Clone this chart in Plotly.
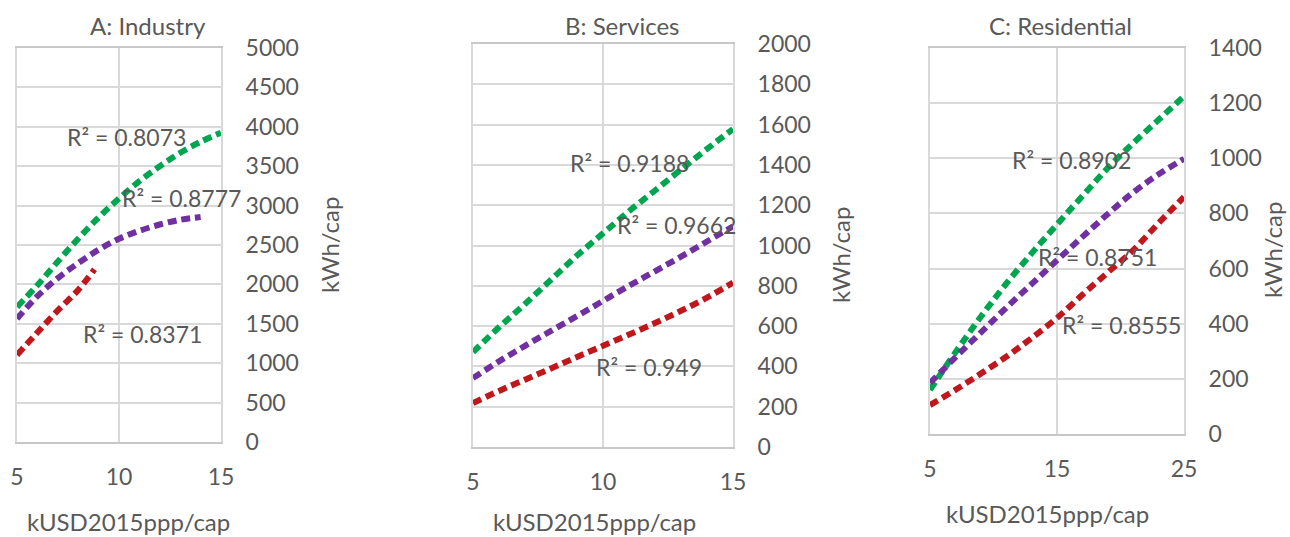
import plotly.graph_objects as go

# Trend curves of electricity use per capita vs. GDP per capita, three sectors
ind_x = [5, 6, 7, 8, 9, 10, 11, 12, 13, 14, 15]
ind_green = [1713, 1990, 2290, 2580, 2850, 3090, 3310, 3500, 3670, 3810, 3925]
ind_purple_x = [5, 6, 7, 8, 9, 10, 11, 12, 13, 14]
ind_purple = [1565, 1850, 2080, 2270, 2440, 2580, 2680, 2760, 2820, 2855]
ind_red_x = [5, 6, 7, 8, 8.8]
ind_red = [1104, 1390, 1670, 1930, 2190]

srv_x = [5, 6, 7, 8, 9, 10, 11, 12, 13, 14, 15]
srv_green = [471, 594, 710, 830, 950, 1060, 1170, 1273, 1377, 1479, 1578]
srv_purple = [342, 425, 502, 576, 650, 725, 800, 872, 945, 1020, 1095]
srv_red = [218, 278, 334, 390, 447, 502, 558, 615, 676, 741, 816]

res_x = [5, 7, 9, 11, 13, 15, 17, 19, 21, 23, 25]
res_green = [160, 296, 425, 545, 655, 760, 863, 965, 1055, 1140, 1225]
res_purple = [185, 278, 368, 458, 544, 630, 715, 798, 876, 942, 998]
res_red = [105, 160, 219, 280, 348, 421, 505, 586, 667, 765, 860]

panel_titles = ["A: Industry", "B: Services", "C: Residential"]
r2_labels = [
    [("R² = 0.8073", 10.39, 3870), ("R² = 0.8777", 13.04, 3096), ("R² = 0.8371", 11.13, 1371)],
    [("R² = 0.9188", 11.0, 1409), ("R² = 0.9662", 12.81, 1102), ("R² = 0.949", 11.77, 397)],
    [("R² = 0.8902", 16.18, 994), ("R² = 0.8751", 18.15, 642), ("R² = 0.8555", 20.04, 395)],
]

GREEN = "#00a64f"
PURPLE = "#7030a0"
RED = "#c0171d"
TEXT = "#595959"
GRID = "#d9d9d9"
FONT = "Lato"

W, H = 1290, 537


def fx(p):
    return p / W


def fy(p):
    return (H - p) / H


fig = go.Figure()

series = [
    ("x", "y", [(ind_x, ind_green, GREEN), (ind_purple_x, ind_purple, PURPLE), (ind_red_x, ind_red, RED)]),
    ("x2", "y2", [(srv_x, srv_green, GREEN), (srv_x, srv_purple, PURPLE), (srv_x, srv_red, RED)]),
    ("x3", "y3", [(res_x, res_green, GREEN), (res_x, res_purple, PURPLE), (res_x, res_red, RED)]),
]
for xa, ya, lines in series:
    for xs, ys, col in lines:
        fig.add_trace(go.Scatter(
            x=xs, y=ys, xaxis=xa, yaxis=ya, mode="lines",
            line=dict(color=col, width=6, dash="9px,5px", shape="spline", smoothing=1.0),
            showlegend=False, hoverinfo="skip",
        ))

# plot-area boxes in pixels: left, right, top, bottom
boxes = [(17, 221, 48, 442), (473, 733, 44, 447), (930, 1184, 48, 434)]
x_ranges = [(5, 15, 5), (5, 15, 5), (5, 25, 10)]
y_ranges = [(0, 5000, 500), (0, 2000, 200), (0, 1400, 200)]

axis_common = dict(
    showgrid=True, gridcolor=GRID, gridwidth=1.5,
    showline=True, linecolor=GRID, linewidth=2, mirror=True,
    zeroline=False, ticks="", automargin=False,
    tickfont=dict(family=FONT, size=23, color=TEXT),
)

layout = dict(
    width=W, height=H,
    margin=dict(l=0, r=0, t=0, b=0, autoexpand=False),
    paper_bgcolor="white", plot_bgcolor="white",
    font=dict(family=FONT, color=TEXT),
)
for i, ((l, r, t, b), (x0, x1, dx), (y0, y1, dy)) in enumerate(zip(boxes, x_ranges, y_ranges)):
    sfx = "" if i == 0 else str(i + 1)
    layout["xaxis" + sfx] = dict(
        axis_common, domain=[fx(l), fx(r)], range=[x0, x1], dtick=dx, tick0=x0,
        anchor="y" + sfx, ticklabelstandoff=13,
    )
    layout["yaxis" + sfx] = dict(
        axis_common, domain=[fy(b), fy(t)], range=[y0, y1], dtick=dy, tick0=0,
        anchor="x" + sfx, side="right", ticklabelstandoff=18,
    )
fig.update_layout(**layout)
fig.update_xaxes(linecolor="#c8c8c8")

annotations = []
title_pos = [(148, 25), (622, 25), (1060, 26)]
xtitle_pos = [(128, 521), (594, 521), (1047, 513)]
ytitle_pos = [(329, 245), (840, 255), (1273, 250)]
for i in range(3):
    annotations.append(dict(
        text=panel_titles[i], x=fx(title_pos[i][0]), y=fy(title_pos[i][1]),
        xref="paper", yref="paper", showarrow=False,
        xanchor="center", yanchor="middle",
        font=dict(family=FONT, size=24, color=TEXT),
    ))
    annotations.append(dict(
        text="kUSD2015ppp/cap", x=fx(xtitle_pos[i][0]), y=fy(xtitle_pos[i][1]),
        xref="paper", yref="paper", showarrow=False,
        xanchor="center", yanchor="middle",
        font=dict(family=FONT, size=24, color=TEXT),
    ))
    annotations.append(dict(
        text="kWh/cap", x=fx(ytitle_pos[i][0]), y=fy(ytitle_pos[i][1]),
        xref="paper", yref="paper", showarrow=False, textangle=-90,
        xanchor="center", yanchor="middle",
        font=dict(family=FONT, size=24, color=TEXT),
    ))
    sfx = "" if i == 0 else str(i + 1)
    for txt, lx, ly in r2_labels[i]:
        annotations.append(dict(
            text=txt, x=lx, y=ly, xref="x" + sfx, yref="y" + sfx, showarrow=False,
            xanchor="center", yanchor="middle",
            font=dict(family=FONT, size=23, color=TEXT),
        ))
fig.update_layout(annotations=annotations)

fig.write_html("out.html")
